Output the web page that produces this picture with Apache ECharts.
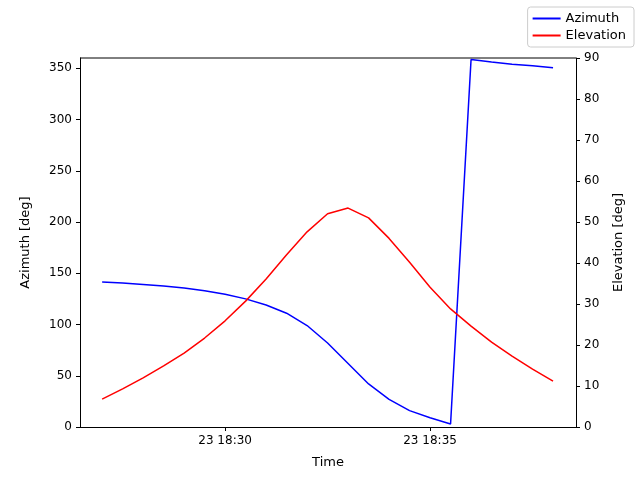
<!DOCTYPE html>
<html><head><meta charset="utf-8">
<script src="https://cdn.jsdelivr.net/npm/echarts@6/dist/echarts.min.js"></script>
<style>html,body{margin:0;padding:0;background:#fff}#c{width:640px;height:480px}</style>
</head><body><div id="c"></div>
<script>
// minutes after 18:00 on day 23
var times = [27,27.5,28,28.5,29,29.5,30,30.5,31,31.5,32,32.5,33,33.5,34,34.5,35,35.5,36,36.5,37,37.5,38];
var azimuth = [141.5,140.5,139,137.5,135.5,133,129.5,125,119,111,99,82,62,42,27,16,9,3,358.5,356,354,352.5,350.5];
var elevation = [6.8,9.3,12,14.9,18,21.7,25.9,30.7,36.1,42,47.6,52,53.4,51,46,40.2,34.1,28.8,24.6,20.7,17.3,14.1,11.2];
var timeTicks = [30,35];
var leftTicks = [0,50,100,150,200,250,300,350];
var rightTicks = [0,10,20,30,40,50,60,70,80,90];

function pairs(v){return times.map(function(t,i){return [t,v[i]];});}
var font = 'DejaVu Sans';
var chart = echarts.init(document.getElementById('c'));
chart.setOption({
  animation:false,
  textStyle:{fontFamily:font},
  grid:{left:80,right:64,top:58,bottom:53},
  legend:{right:6,top:7,orient:'vertical',itemGap:4,itemWidth:28,itemHeight:2,
    borderColor:'#ccc',borderWidth:1,borderRadius:3,padding:[5,8,5,5],
    textStyle:{fontFamily:font,fontSize:13,color:'#000'},
    data:[{name:'Azimuth',icon:'rect'},{name:'Elevation',icon:'rect'}]},
  xAxis:{type:'value',min:26.46,max:38.56,name:'Time',nameLocation:'middle',nameGap:29,
    nameTextStyle:{fontSize:13,color:'#000'},
    axisLine:{lineStyle:{color:'#000'}},splitLine:{show:false},
    axisTick:{customValues:timeTicks,length:4,inside:false,lineStyle:{color:'#000'}},
    axisLabel:{customValues:timeTicks,fontSize:12,color:'#000',formatter:function(v){return '23 18:'+Math.round(v);}}},
  yAxis:[
    {type:'value',min:0,max:360,name:'Azimuth [deg]',nameLocation:'middle',nameGap:48,
      nameTextStyle:{fontSize:13,color:'#000'},
      axisLine:{show:true,lineStyle:{color:'#000'}},splitLine:{show:false},
      axisTick:{show:true,customValues:leftTicks,length:4,lineStyle:{color:'#000'}},
      axisLabel:{customValues:leftTicks,fontSize:12,color:'#000'}},
    {type:'value',min:0,max:90,interval:10,name:'Elevation [deg]',nameLocation:'middle',nameGap:36,
      nameTextStyle:{fontSize:13,color:'#000'},
      axisLine:{show:true,lineStyle:{color:'#000'}},splitLine:{show:false},
      axisTick:{show:true,length:4,lineStyle:{color:'#000'}},
      axisLabel:{fontSize:12,color:'#000'}}
  ],
  series:[
    {name:'Azimuth',type:'line',data:pairs(azimuth),yAxisIndex:0,showSymbol:false,
      lineStyle:{color:'#0000ff',width:1.5},itemStyle:{color:'#0000ff'}},
    {name:'Elevation',type:'line',data:pairs(elevation),yAxisIndex:1,showSymbol:false,
      lineStyle:{color:'#ff0000',width:1.5},itemStyle:{color:'#ff0000'}}
  ]
});
// top border of plot box
chart.setOption({graphic:[{type:'line',shape:{x1:80,y1:58,x2:576,y2:58},style:{stroke:'#000',lineWidth:1}}]});
</script></body></html>
